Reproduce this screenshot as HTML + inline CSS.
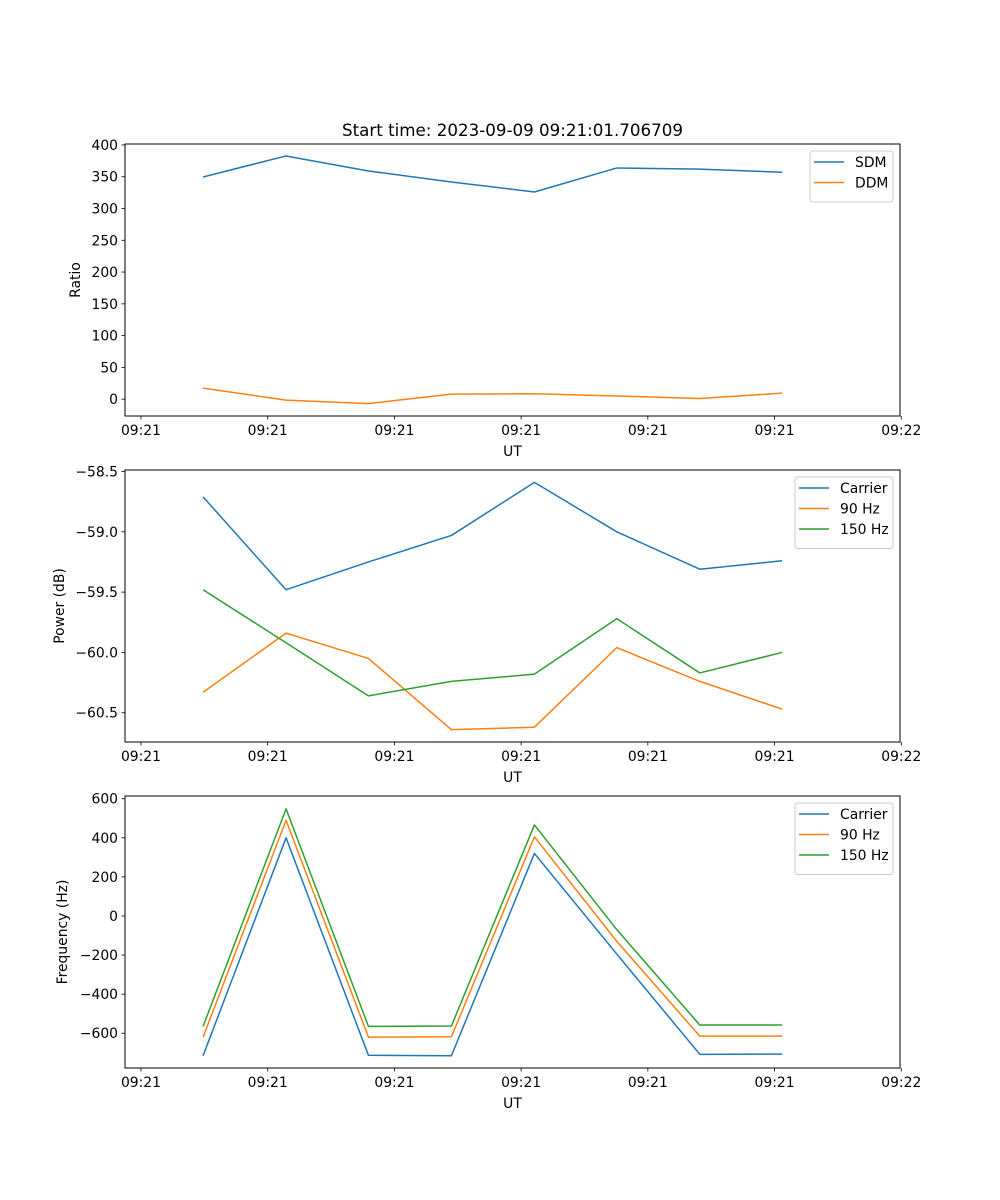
<!DOCTYPE html>
<html><head><meta charset="utf-8">
<style>
html,body{margin:0;padding:0;background:#fff}
svg{display:block;font-family:"DejaVu Sans","Liberation Sans",sans-serif}
</style></head>
<body>
<svg id="fig" width="1000" height="1200" viewBox="0 0 1000 1200" xmlns="http://www.w3.org/2000/svg">
<rect width="1000" height="1200" fill="#fff"/>
<text x="512.5" y="136" text-anchor="middle" font-size="16.7">Start time: 2023-09-09 09:21:01.706709</text>
</svg>
<script>
// shared time axis (seconds after 09:21:00)
const times = [4.9, 11.45, 17.95, 24.5, 31.05, 37.55, 44.1, 50.6];
const xTickVals = [0, 10, 20, 30, 40, 50, 60];
const xTickLabels = ["09:21","09:21","09:21","09:21","09:21","09:21","09:22"];
// panel 1
const sdm = [349.6, 382.7, 359, 341.7, 326, 363.8, 362, 357];
const ddm = [17.3, -1.5, -7, 8, 8.5, 5, 1, 9.5];
const ratioTicks = [0, 50, 100, 150, 200, 250, 300, 350, 400];
// panel 2
const powCarrier = [-58.71, -59.48, -59.25, -59.03, -58.59, -59.0, -59.31, -59.24];
const pow90 = [-60.33, -59.84, -60.05, -60.64, -60.62, -59.96, -60.24, -60.47];
const pow150 = [-59.48, -59.92, -60.36, -60.24, -60.18, -59.72, -60.17, -60.0];
const powTicks = [-58.5, -59.0, -59.5, -60.0, -60.5];
const powTickLabels = ["\u221258.5","\u221259.0","\u221259.5","\u221260.0","\u221260.5"];
// panel 3
const freqCarrier = [-715, 400, -713, -715, 320, -195, -708, -707];
const freq90 = [-620, 490, -620, -618, 405, -130, -615, -615];
const freq150 = [-565, 548, -565, -563, 466, -70, -558, -558];
const freqTicks = [600, 400, 200, 0, -200, -400, -600];
const freqTickLabels = ["600","400","200","0","\u2212200","\u2212400","\u2212600"];

const C = {blue:"#1f77b4", orange:"#ff7f0e", green:"#2ca02c"};
const NS = "http://www.w3.org/2000/svg";
const svg = document.getElementById('fig');
const L = 125, R = 900;
const xMin = -1.26, xMax = 59.9;
function xs(t){ return L + (t - xMin) / (xMax - xMin) * (R - L); }
function mk(tag, attrs, parent){
  const e = document.createElementNS(NS, tag);
  for (const k in attrs) e.setAttribute(k, attrs[k]);
  (parent || svg).appendChild(e);
  return e;
}
function panel(id, top, bottom, yMin, yMax, yTicks, yLabels, yTitle, series, legend){
  const g = mk('g', {});
  
  
  const ys = v => bottom - (v - yMin) / (yMax - yMin) * (bottom - top);
  series.forEach(s => {
    const p = mk('polyline', {points: times.map((t,i)=>xs(t).toFixed(2)+','+ys(s.vals[i]).toFixed(2)).join(' '), fill:'none', stroke:s.color, 'stroke-width':1.5, 'stroke-linejoin':'round'}, g);
    
    
  });
  const fr = mk('rect', {x:L, y:top, width:R-L, height:bottom-top, fill:'none', stroke:'#000', 'stroke-width':1}, g);
  
  
  xTickVals.forEach((t,i) => {
    const x = xs(t);
    mk('line', {x1:x, y1:bottom, x2:x, y2:bottom+3.5, stroke:'#000', 'stroke-width':0.8}, g);
    const tx = mk('text', {x:x, y:bottom+19, 'text-anchor':'middle', 'font-size':13.9}, g);
    tx.textContent = xTickLabels[i];
    
    
  });
  const xt = mk('text', {x:(L+R)/2, y:bottom+40, 'text-anchor':'middle', 'font-size':13.9}, g);
  xt.textContent = 'UT';
  
  
  yTicks.forEach((v,i) => {
    const y = ys(v);
    mk('line', {x1:L, y1:y, x2:L-3.5, y2:y, stroke:'#000', 'stroke-width':0.8}, g);
    const tx = mk('text', {x:L-7, y:y+5, 'text-anchor':'end', 'font-size':13.9}, g);
    tx.textContent = yLabels[i];
    
    
  });
  const yt = mk('text', {x:0, y:0, 'text-anchor':'middle', 'font-size':13.9, transform:`translate(${legend.ytx},${(top+bottom)/2}) rotate(-90)`}, g);
  yt.textContent = yTitle;
  
  
  const n = series.length;
  const lw = legend.w, lh = 10 + n*20.5;
  const lx = R - 7 - lw, ly = top + legend.dy;
  const lg = mk('g', {}, g);
  
  
  mk('rect', {x:lx, y:ly, width:lw, height:lh, rx:3, fill:'#fff', 'fill-opacity':0.8, stroke:'#ccc', 'stroke-width':1}, lg);
  series.forEach((s,i) => {
    const yy = ly + 11 + i*20.5;
    mk('line', {x1:lx+4, y1:yy, x2:lx+34, y2:yy, stroke:s.color, 'stroke-width':1.5}, lg);
    const tx = mk('text', {x:lx+45, y:yy+5, 'font-size':13.9}, lg);
    tx.textContent = s.label;
    
    
  });
}
panel('ratio', 144, 416, -26.5, 401.5, ratioTicks, ratioTicks.map(String), 'Ratio',
  [{key:'sdm', label:'SDM', vals:sdm, color:C.blue},{key:'ddm', label:'DDM', vals:ddm, color:C.orange}],
  {w:83, dy:7, ytx:80});
panel('power', 470, 742, -60.7425, -58.4875, powTicks, powTickLabels, 'Power (dB)',
  [{key:'carrier', label:'Carrier', vals:powCarrier, color:C.blue},{key:'90hz', label:'90 Hz', vals:pow90, color:C.orange},{key:'150hz', label:'150 Hz', vals:pow150, color:C.green}],
  {w:98, dy:7, ytx:64});
panel('frequency', 796, 1068, -778, 614, freqTicks, freqTickLabels, 'Frequency (Hz)',
  [{key:'carrier', label:'Carrier', vals:freqCarrier, color:C.blue},{key:'90hz', label:'90 Hz', vals:freq90, color:C.orange},{key:'150hz', label:'150 Hz', vals:freq150, color:C.green}],
  {w:98, dy:7, ytx:67});
</script>
</body></html>
